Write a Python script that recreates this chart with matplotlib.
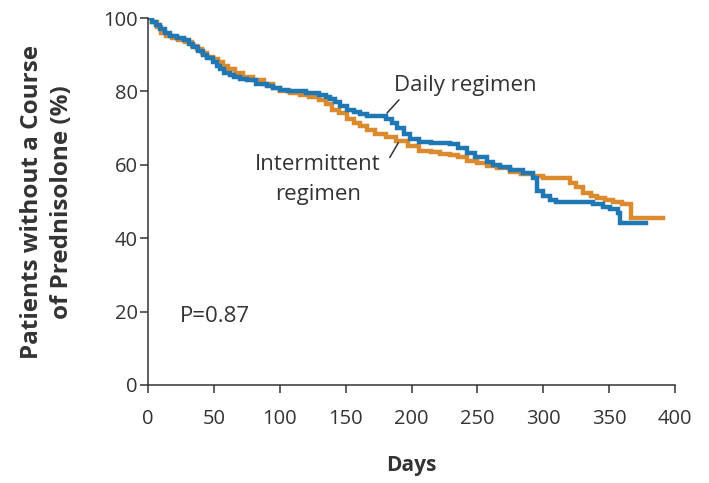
import matplotlib
matplotlib.use("Agg")
import matplotlib.pyplot as plt

# Kaplan-Meier style step curves (day, % without a course of prednisolone)
daily_days = [0, 3, 6, 9, 13, 17, 22, 27, 31, 34, 38, 42, 45, 49, 52, 55, 58, 62, 65,
              70, 75, 82, 90, 95, 100, 106, 120, 130, 135, 138, 142, 146, 151, 156, 161,
              166, 181, 185, 189, 194, 199, 206, 215, 229, 235, 242, 248, 257, 262, 267,
              275, 285, 292, 295, 300, 305, 310, 338, 345, 351, 357, 358, 378]
daily_pct = [100, 99, 98, 97, 96, 95, 94.5, 94, 93, 92, 91, 90, 89, 88, 87, 86, 85, 84.5, 84,
             83.5, 83, 82, 81.5, 81, 80.5, 80, 79.5, 79, 78.5, 78, 77, 76, 75, 74.5, 73.8,
             73.2, 72.5, 71.5, 70, 68.5, 67, 66.3, 66, 65.6, 64.5, 63.2, 62, 60.8, 60, 59.4,
             58.5, 57.8, 56.4, 52.8, 51.5, 50.4, 49.8, 49.2, 48.6, 48, 47, 44.2, 44.2]

inter_days = [0, 3, 7, 10, 14, 18, 23, 28, 33, 37, 41, 45, 49, 53, 57, 61, 66, 72, 80,
              88, 95, 100, 108, 115, 122, 130, 135, 140, 145, 151, 156, 161, 166, 172, 181,
              188, 197, 206, 215, 222, 229, 235, 242, 250, 257, 265, 275, 283, 292, 300,
              320, 325, 330, 336, 341, 347, 353, 360, 367, 391]
inter_pct = [100, 99, 97.5, 96, 95, 94.5, 94, 93.5, 92.5, 91.5, 90.5, 89.5, 88.8, 88, 87,
             86, 85, 84, 83, 82, 81, 80, 79.5, 79, 78.5, 77.7, 76.5, 75, 74, 72.5, 71.5,
             70.5, 69.5, 68.5, 67.6, 66.5, 65, 63.8, 63.5, 63, 62.7, 62, 61, 60.5, 59.6, 59,
             58, 57.6, 57, 56.5, 55, 54, 52.3, 51.5, 51, 50.5, 49.9, 49.2, 45.5, 45.5]

x_ticks = [0, 50, 100, 150, 200, 250, 300, 350, 400]
y_ticks = [0, 20, 40, 60, 80, 100]

BLUE = "#1f78b4"
ORANGE = "#dc8a2e"
INK = "#333333"

plt.rcParams["font.family"] = ["Open Sans", "DejaVu Sans"]

fig = plt.figure(figsize=(7.09, 4.83), dpi=100)
ax = fig.add_axes([0.2088, 0.2029, 0.7432, 0.7598])

ax.plot(inter_days, inter_pct, drawstyle="steps-post", color=ORANGE, lw=3.2,
        solid_joinstyle="miter")
ax.plot(daily_days, daily_pct, drawstyle="steps-post", color=BLUE, lw=3.2,
        solid_joinstyle="miter")

ax.set_xlim(0, 400)
ax.set_ylim(0, 100)
ax.set_xticks(x_ticks)
ax.set_yticks(y_ticks)
for s in ("top", "right"):
    ax.spines[s].set_visible(False)
for s in ("left", "bottom"):
    ax.spines[s].set_color(INK)
    ax.spines[s].set_linewidth(1.1)
ax.tick_params(direction="out", length=5.5, width=1.1, color=INK,
               labelsize=14.5, labelcolor=INK)
ax.tick_params(axis="x", pad=12)
ax.tick_params(axis="y", pad=2)

fig.text(411 / 709, 1 - 465 / 483, "Days", fontsize=15, fontweight="bold",
         color=INK, ha="center", va="center")
fig.text(47 / 709, 1 - 202 / 483, "Patients without a Course\nof Prednisolone (%)",
         fontsize=17.5, fontweight="bold", color=INK, ha="center", va="center",
         rotation=90, multialignment="center", linespacing=1.3)

ax.text(240.5, 81.5, "Daily regimen", fontsize=16, color=INK, ha="center", va="center")
ax.annotate("", xy=(181.4, 74.1), xytext=(190.5, 77.7),
            arrowprops=dict(arrowstyle="-", color=INK, lw=1.1, shrinkA=0, shrinkB=0))
ax.text(129, 56, "Intermittent\nregimen", fontsize=16, color=INK, ha="center",
        va="center", linespacing=1.55)
ax.annotate("", xy=(190, 66), xytext=(183.5, 62),
            arrowprops=dict(arrowstyle="-", color=INK, lw=1.1, shrinkA=0, shrinkB=0))
ax.text(24, 18.8, "P=0.87", fontsize=16, color=INK, ha="left", va="center")

fig.savefig("out.png", dpi=100)
